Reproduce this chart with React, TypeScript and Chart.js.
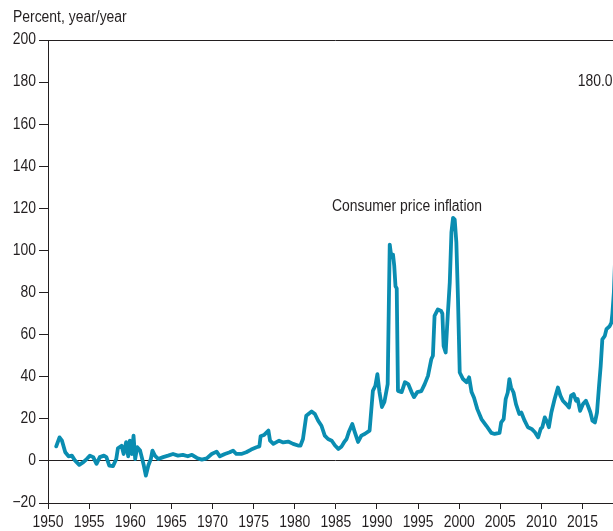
import React, { useEffect, useRef } from "react";
import { Chart, registerables } from "chart.js";

Chart.register(...registerables);

const years = [
  1951.0, 1951.4, 1951.7, 1952.1, 1952.5, 1952.9, 1953.3, 1953.8, 1954.3, 1954.7,
  1955.1, 1955.5, 1955.9, 1956.3, 1956.8, 1957.1, 1957.45, 1957.9, 1958.3, 1958.5,
  1958.95, 1959.2, 1959.5, 1959.75, 1959.95, 1960.2, 1960.4, 1960.6, 1960.85, 1961.2,
  1961.4, 1961.65, 1961.9, 1962.2, 1962.5, 1962.7, 1963.0, 1963.4, 1964.0, 1964.6,
  1965.2, 1965.8, 1966.4, 1967.0, 1967.5, 1968.1, 1968.7, 1969.3, 1969.9, 1970.5,
  1970.9, 1971.5, 1972.1, 1972.5, 1972.9, 1973.5, 1974.1, 1974.7, 1975.35, 1975.7,
  1975.85, 1976.25, 1976.8, 1977.0, 1977.4, 1978.1, 1978.6, 1979.2, 1979.8, 1980.4,
  1980.7, 1981.0, 1981.4, 1982.05, 1982.45, 1982.85, 1983.25, 1983.65, 1984.05, 1984.5,
  1984.9, 1985.3, 1985.7, 1986.0, 1986.3, 1986.6, 1987.0, 1987.3, 1987.7, 1988.1,
  1988.5, 1989.1, 1989.5, 1989.8, 1990.05, 1990.3, 1990.6, 1990.9, 1991.3, 1991.45,
  1991.55, 1991.75, 1991.95, 1992.1, 1992.25, 1992.4, 1992.55, 1993.0, 1993.4, 1993.8,
  1994.2, 1994.5, 1994.9, 1995.4, 1995.8, 1996.2, 1996.6, 1996.8, 1997.0, 1997.4,
  1997.8, 1997.95, 1998.1, 1998.35, 1998.6, 1998.85, 1999.05, 1999.25, 1999.45, 1999.65,
  1999.85, 2000.06, 2000.46, 2000.9, 2001.2, 2001.5, 2001.8, 2002.2, 2002.7, 2003.3,
  2003.9, 2004.3, 2004.9, 2005.1, 2005.4, 2005.65, 2005.9, 2006.1, 2006.3, 2006.6,
  2006.9, 2007.3, 2007.55, 2007.95, 2008.35, 2008.8, 2009.2, 2009.6, 2009.9, 2010.1,
  2010.4, 2010.7, 2010.9, 2011.2, 2011.6, 2012.0, 2012.3, 2012.6, 2013.0, 2013.35,
  2013.6, 2013.9, 2014.2, 2014.4, 2014.7, 2015.05, 2015.4, 2015.65, 2015.95, 2016.2,
  2016.5, 2016.75, 2017.0, 2017.2, 2017.4, 2017.7, 2017.9, 2018.3, 2018.5, 2018.62,
  2018.8, 2019.75,
];

const inflation = [
  6.9, 11.2, 9.6, 4.1, 2.2, 2.5, 0.1, -1.9, -0.6, 0.9,
  2.5, 1.8, -1.4, 1.8, 2.5, 1.8, -2.2, -2.5, 0.9, 6.0,
  7.2, 3.3, 8.9, 2.2, 9.6, 3.3, 12.0, 0.9, 6.5, 4.9,
  1.8, -2.2, -7.0, -2.2, 0.9, 4.9, 2.5, 0.9, 1.8, 2.5,
  3.3, 2.5, 2.9, 2.2, 2.9, 1.4, 0.6, 1.2, 3.3, 4.4,
  2.2, 3.3, 4.1, 4.9, 3.3, 3.3, 4.1, 5.4, 6.5, 6.9,
  11.7, 12.3, 14.4, 9.6, 8.1, 9.6, 8.8, 9.2, 8.1, 7.3,
  7.3, 10.4, 21.5, 23.5, 22.3, 19.1, 16.7, 12.0, 10.4, 9.6,
  7.3, 5.7, 6.9, 8.9, 10.4, 14.0, 17.5, 13.7, 9.0, 12.0,
  12.8, 14.4, 33.3, 35.7, 41.2, 32.7, 25.6, 28.0, 36.5, 76.8,
  102.8, 96.7, 98.0, 92.6, 83.0, 82.0, 33.3, 32.7, 37.4, 36.5,
  32.7, 30.3, 32.7, 33.2, 36.5, 40.4, 48.3, 50.0, 68.9, 72.0,
  71.2, 70.0, 54.6, 51.5, 68.9, 84.8, 108.5, 115.5, 114.7, 103.8,
  76.8, 42.0, 38.9, 37.4, 39.7, 32.7, 30.0, 24.6, 19.9, 16.7,
  13.3, 12.8, 13.3, 18.3, 19.9, 29.4, 32.5, 38.9, 34.9, 32.5,
  27.0, 22.3, 23.0, 19.1, 16.0, 15.2, 13.6, 11.2, 15.2, 16.0,
  20.7, 18.3, 16.0, 23.0, 29.4, 34.9, 31.0, 28.6, 27.0, 25.4,
  31.0, 31.8, 28.6, 29.4, 23.8, 27.0, 28.6, 26.2, 23.0, 19.1,
  18.3, 23.0, 35.7, 45.2, 57.8, 59.4, 62.6, 64.1, 65.7, 70.0,
  80.0, 180.0,
];

const yTickValues = [-20, 0, 20, 40, 60, 80, 100, 120, 140, 160, 180, 200];
const xTickValues = [1950, 1955, 1960, 1965, 1970, 1975, 1980, 1985, 1990, 1995, 2000, 2005, 2010, 2015];

const unitLabel = "Percent, year/year";
const seriesLabel = "Consumer price inflation";
const seriesLabelAt = { x: 1993.65, y: 121 };
const endLabel = "180.0";
const endLabelAt = { x: 2014.4, y: 180 };

const FONT = "'Liberation Sans', Arial, sans-serif";
const SQUEEZE = 0.87;
const INK = "#231f20";
const LINE = "#0a8db1";

function drawNarrow(ctx: CanvasRenderingContext2D, text: string, x: number, y: number, align: CanvasTextAlign) {
  ctx.save();
  ctx.translate(x, y);
  ctx.scale(SQUEEZE, 1);
  ctx.textAlign = align;
  ctx.textBaseline = "middle";
  ctx.fillText(text, 0, 0);
  ctx.restore();
}

export default function App() {
  const ref = useRef<HTMLCanvasElement | null>(null);

  useEffect(() => {
    const canvas = ref.current;
    if (!canvas) return;

    const textPlugin = {
      id: "texts",
      afterDraw(chart: any) {
        const ctx = chart.ctx as CanvasRenderingContext2D;
        const xs = chart.scales.x;
        const ys = chart.scales.y;
        ctx.save();
        ctx.fillStyle = INK;
        ctx.font = `16px ${FONT}`;
        drawNarrow(ctx, unitLabel, 13, 18, "left");
        drawNarrow(ctx, seriesLabel, xs.getPixelForValue(seriesLabelAt.x), ys.getPixelForValue(seriesLabelAt.y), "center");
        drawNarrow(ctx, endLabel, xs.getPixelForValue(endLabelAt.x), ys.getPixelForValue(endLabelAt.y), "left");
        const yLabelRight = ys.left + ys.width - 12;
        yTickValues.forEach((v) => {
          const t = v < 0 ? "\u2212" + Math.abs(v) : String(v);
          drawNarrow(ctx, t, yLabelRight, ys.getPixelForValue(v), "right");
        });
        const xLabelY = xs.top + 20;
        xTickValues.forEach((v) => {
          drawNarrow(ctx, String(v), xs.getPixelForValue(v), xLabelY, "center");
        });
        ctx.restore();
      },
    };

    const chart = new Chart(canvas, {
      type: "line",
      data: {
        datasets: [
          {
            label: seriesLabel,
            data: years.map((x, i) => ({ x, y: inflation[i] })),
            borderColor: LINE,
            borderWidth: 3.8,
            pointRadius: 0,
            tension: 0,
            fill: false,
            borderJoinStyle: "round",
            borderCapStyle: "round",
          },
        ],
      },
      options: {
        responsive: false,
        animation: false,
        layout: { padding: { left: 8, right: 8, top: 40, bottom: 0 } },
        plugins: { legend: { display: false }, tooltip: { enabled: false } },
        scales: {
          x: {
            type: "linear",
            min: 1950,
            max: 2019.79,
            afterBuildTicks: (s: any) => {
              s.ticks = xTickValues.map((v) => ({ value: v }));
            },
            afterFit: (s: any) => {
              s.height = 28;
            },
            ticks: {
              autoSkip: false,
              maxRotation: 0,
              padding: 2,
              color: "rgba(0,0,0,0)",
              font: { family: FONT, size: 12 },
              callback: (v: any) => String(v),
            },
            grid: {
              drawOnChartArea: false,
              tickLength: 6,
              color: INK,
              tickColor: INK,
            },
            border: { display: true, color: INK, width: 1 },
          },
          y: {
            type: "linear",
            min: -20,
            max: 200,
            afterBuildTicks: (s: any) => {
              s.ticks = yTickValues.map((v) => ({ value: v }));
            },
            afterFit: (s: any) => {
              s.width = 40;
            },
            ticks: {
              padding: 3,
              color: "rgba(0,0,0,0)",
              font: { family: FONT, size: 12 },
              callback: (v: any) => String(v),
            },
            grid: {
              tickLength: 9,
              tickColor: INK,
              color: (ctx: any) =>
                ctx.tick && (ctx.tick.value === 0 || ctx.tick.value === 200) ? INK : "rgba(0,0,0,0)",
              lineWidth: 1,
            },
            border: { display: true, color: INK, width: 1 },
          },
        },
      },
      plugins: [textPlugin],
    } as any);

    return () => chart.destroy();
  }, []);

  return (
    <div
      style={{
        position: "fixed",
        left: 0,
        top: 0,
        width: 613,
        height: 531,
        overflow: "hidden",
        background: "#fff",
      }}
    >
      <canvas ref={ref} width={630} height={531} style={{ display: "block", width: 630, height: 531 }} />
    </div>
  );
}
